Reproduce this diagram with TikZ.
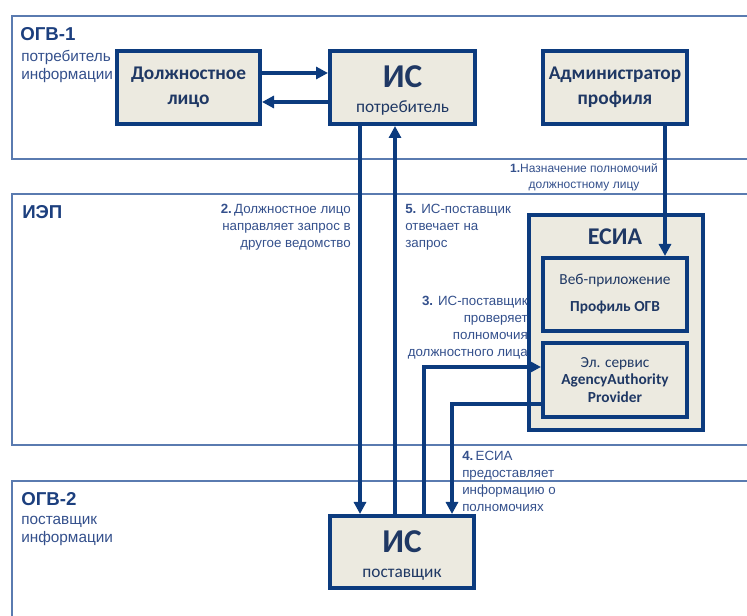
\documentclass[tikz,border=0pt]{standalone}
\usepackage{fontspec}
\setmainfont{Liberation Sans}
\newfontfamily\boxfont{Carlito}
\usetikzlibrary{arrows.meta}
\definecolor{navy}{HTML}{0C3B7E}
\definecolor{boxfill}{HTML}{ECEAE0}
\definecolor{boxtext}{HTML}{1F3864}
\definecolor{regline}{HTML}{5A7BB0}
\definecolor{labtext}{HTML}{34508C}
\definecolor{regtitle}{HTML}{1C3F7E}
\tikzset{
  region/.style={draw=regline, line width=1.1pt},
  unit/.style={draw=navy, fill=boxfill, line width=3pt, text=boxtext, align=center, inner sep=0pt},
  flow/.style={draw=navy, line width=2.4pt, -{Triangle[length=9pt,width=9pt]}},
  lab/.style={text=labtext, inner sep=0pt, font=\fontsize{10}{12.75}\selectfont},
  rtitle/.style={text=regtitle, inner sep=0pt, anchor=north west, font=\fontsize{14}{16}\selectfont\bfseries},
  rsub/.style={text=labtext, inner sep=0pt, anchor=north west, align=left, font=\fontsize{11.5}{13.5}\selectfont},
  twoline/.style={font=\boxfont\fontsize{14.5}{18.75}\selectfont\bfseries},
  bigtxt/.style={text=boxtext, inner sep=0pt, anchor=base, font=\boxfont\fontsize{25}{26}\selectfont\bfseries},
  subtxt/.style={text=boxtext, inner sep=0pt, anchor=base, font=\boxfont\fontsize{13}{15}\selectfont},
}
\begin{document}
\begin{tikzpicture}[x=0.75pt, y=-0.75pt]
\useasboundingbox (0,0) rectangle (747,616);
% regions
\draw[region] (780,16) -- (12,16) -- (12,159) -- (780,159);
\draw[region] (780,194) -- (12,194) -- (12,445) -- (780,445);
\draw[region] (780,481) -- (12,481) -- (12,640);
% region titles
\node[rtitle] (t1) at (20,27) {ОГВ-1};
\node[rsub] (s1) at (21,50) {потребитель\\информации};
\node[rtitle] (t2) at (22,205) {ИЭП};
\node[rtitle] (t3) at (21,492) {ОГВ-2};
\node[rsub] (s3) at (21,516) {поставщик\\информации};
% boxes
\node[unit, twoline, minimum width=143*0.75pt, minimum height=73*0.75pt] (dl) at (188.5,87.5)
  {Должностное\\лицо};
\node[unit, minimum width=145*0.75pt, minimum height=73*0.75pt] (isp) at (402.5,87.5) {};
\node[bigtxt] (ispa) at (402.5,88) {ИС};
\node[subtxt] (ispb) at (402.5,112.5) {потребитель};
\node[unit, twoline, minimum width=144*0.75pt, minimum height=73*0.75pt] (adm) at (615,87.5)
  {Администратор\\профиля};
\node[unit, minimum width=174*0.75pt, minimum height=215*0.75pt] (esia) at (616,322.5) {};
\node[text=boxtext, font=\boxfont\fontsize{18}{20}\selectfont\bfseries, inner sep=0pt] (esiat) at (615,237) {ЕСИА};
\node[unit, font=\boxfont\fontsize{11.5}{20.25}\selectfont, minimum width=144*0.75pt, minimum height=73*0.75pt] (web) at (615,294.5)
  {Веб-приложение\\\textbf{Профиль ОГВ}};
\node[unit, font=\boxfont\fontsize{11.5}{13.2}\selectfont, minimum width=144*0.75pt, minimum height=74*0.75pt] (srv) at (615,380)
  {Эл. сервис\\\textbf{AgencyAuthority}\\\textbf{Provider}};
\node[unit, minimum width=144*0.75pt, minimum height=72*0.75pt] (iss) at (402,552) {};
\node[bigtxt] (issa) at (402,553) {ИС};
\node[subtxt] (issb) at (402,577.5) {поставщик};
% connectors
\draw[flow] (dl.east |- 0,73) -- (isp.west |- 0,73);
\draw[flow] (isp.west |- 0,102) -- (dl.east |- 0,102);
\draw[flow] (isp.south -| 360,0) -- (iss.north -| 360,0);
\draw[flow] (iss.north -| 395,0) -- (isp.south -| 395,0);
\draw[flow] (iss.north -| 424,0) |- (srv.west |- 0,367);
\draw[flow] (srv.west |- 0,404) -| (iss.north -| 452,0);
\draw[flow] (adm.south -| 665,0) -- (web.north -| 665,0);
% step labels
\node[lab, anchor=north, align=center, font=\fontsize{9}{12}\selectfont] (l1) at (584,163)
  {\textbf{1.}Назначение полномочий\\должностному лицу};
\node[lab, anchor=north east, align=right] (l2) at (351,203.5)
  {\textbf{2.}\,Должностное лицо\\направляет запрос в\\другое ведомство};
\node[lab, anchor=north west, align=left] (l5) at (405,203.5)
  {\textbf{5.} ИС-поставщик\\отвечает на\\запрос};
\node[lab, anchor=north east, align=right] (l3) at (528,295.5)
  {\textbf{3.} ИС-поставщик\\проверяет\\полномочия\\должностного лица};
\node[lab, anchor=north west, align=left] (l4) at (462,450.5)
  {\textbf{4.}\,ЕСИА\\предоставляет\\информацию о\\полномочиях};
\end{tikzpicture}
\end{document}
